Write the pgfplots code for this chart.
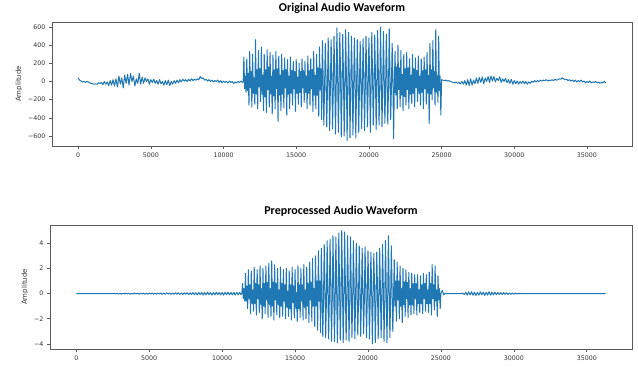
\documentclass[border=0pt]{standalone}
\usepackage{fontspec}
\setmainfont{DejaVu Sans}
\newfontfamily\titlefont{Carlito}
\usepackage{pgfplots}
\pgfplotsset{compat=1.18}
\definecolor{mplblue}{HTML}{1F77B4}
\definecolor{framegray}{HTML}{5A5A5A}
\definecolor{ticktext}{HTML}{333333}
\pgfplotsset{
  wave/.style={
    scale only axis, anchor=south west,
    xmin=-1800, xmax=38100,
    scaled x ticks=false, scaled y ticks=false,
    xtick={0,5000,10000,15000,20000,25000,30000,35000},
    xticklabels={0,5000,10000,15000,20000,25000,30000,35000},
    tick align=outside, tick pos=left, major tick length=3pt,
    axis line style={framegray, line width=0.9pt},
    tick style={framegray, line width=0.6pt},
    ticklabel style={font=\fontsize{6.3}{7}\selectfont, text=ticktext},
    ylabel=Amplitude,
    ylabel style={font=\fontsize{7}{8}\selectfont, text=ticktext, anchor=center, rotate=0},
    title style={font=\titlefont\bfseries\fontsize{12}{14}\selectfont, at={(axis description cs:0.5,1)}, anchor=base, yshift=5pt},
  },
  wline/.style={color=mplblue, line width=1pt, line join=round, mark=none},
}
\begin{document}
\begin{tikzpicture}
\path[use as bounding box] (0,0) rectangle (638pt,367pt);
\begin{axis}[wave, at={(52pt,221pt)}, width=580pt, height=124pt,
  ymin=-710, ymax=655,
  ytick={-600,-400,-200,0,200,400,600},
  yticklabels={−600,−400,−200,0,200,400,600},
  ylabel style={at={(axis description cs:-0.057,0.5)}},
  title={Original Audio Waveform}]
\addplot[wline] coordinates {
(0,40)(100,15)(200,5)(300,-5)(400,0)(500,-10)(600,0)(700,-5)(800,-15)(900,-20)(1000,-25)(1100,-30)(1200,-25)(1300,-30)(1400,-15)(1500,-20)(1600,-10)(1700,-35)(1800,0)(1900,-30)(2000,-5)(2100,-45)(2200,10)(2300,-40)(2400,20)(2500,-50)(2600,30)(2700,-60)(2800,60)(2900,-30)(3000,40)(3100,-70)(3200,70)(3300,-20)(3400,80)(3500,-40)(3600,90)(3700,0)(3800,60)(3900,-50)(4000,30)(4100,-20)(4200,90)(4300,-30)(4400,50)(4500,-20)(4600,40)(4700,0)(4800,30)(4900,-30)(5000,20)(5100,-10)(5200,25)(5300,-20)(5400,10)(5500,-30)(5600,20)(5700,-25)(5800,0)(5900,-40)(6000,10)(6100,-35)(6200,15)(6300,-45)(6400,0)(6500,-30)(6600,10)(6700,-20)(6800,15)(6900,-15)(7000,20)(7100,-5)(7200,25)(7300,5)(7400,20)(7500,0)(7600,25)(7700,5)(7800,30)(7900,10)(8000,25)(8100,15)(8200,30)(8300,20)(8400,55)(8500,30)(8600,40)(8700,15)(8800,25)(8900,5)(9000,20)(9100,0)(9200,15)(9300,-5)(9400,10)(9500,0)(9600,15)(9700,-10)(9800,10)(9900,-15)(10000,5)(10100,-10)(10200,0)(10300,-15)(10400,5)(10500,-10)(10600,0)(10700,-20)(10800,-5)(10900,-15)(11000,0)(11100,-10)(11200,5)(11300,-10)(11350,-5)
(11400,270)(11450,-80)(11500,60)(11550,-120)
(11600,250)(11650,-100)(11700,90)(11750,-260)
(11800,330)(11850,-70)(11900,110)(11950,-280)
(12000,300)(12050,-130)(12100,40)(12150,-250)
(12200,460)(12250,-140)(12300,130)(12350,-300)
(12400,340)(12450,-60)(12500,140)(12550,-220)
(12600,380)(12650,-140)(12700,70)(12750,-320)
(12800,300)(12850,-170)(12900,130)(12950,-340)
(13000,350)(13050,-90)(13100,160)(13150,-280)
(13200,320)(13250,-140)(13300,60)(13350,-360)
(13400,290)(13450,-160)(13500,130)(13550,-300)
(13600,330)(13650,-80)(13700,140)(13750,-440)
(13800,280)(13850,-150)(13900,70)(13950,-320)
(14000,300)(14050,-140)(14100,120)(14150,-290)
(14200,260)(14250,-70)(14300,130)(14350,-370)
(14400,240)(14450,-140)(14500,60)(14550,-300)
(14600,270)(14650,-130)(14700,120)(14750,-260)
(14800,220)(14850,-80)(14900,110)(14950,-330)
(15000,240)(15050,-130)(15100,50)(15150,-250)
(15200,200)(15250,-120)(15300,110)(15350,-280)
(15400,250)(15450,-70)(15500,120)(15550,-230)
(15600,220)(15650,-120)(15700,60)(15750,-300)
(15800,280)(15850,-130)(15900,120)(15950,-260)
(16000,250)(16050,-80)(16100,130)(16150,-330)
(16200,330)(16250,-150)(16300,70)(16350,-300)
(16400,300)(16450,-150)(16500,150)(16550,-380)
(16600,380)(16650,-90)(16700,140)(16750,-420)
(16800,450)(16850,70)(16900,-480)(16950,-70)
(17000,420)(17050,60)(17100,-500)(17150,-80)
(17200,480)(17250,70)(17300,-540)(17350,-80)
(17400,460)(17450,70)(17500,-520)(17550,-80)
(17600,500)(17650,80)(17700,-580)(17750,-90)
(17800,590)(17850,90)(17900,-560)(17950,-80)
(18000,540)(18050,80)(18100,-610)(18150,-90)
(18200,520)(18250,80)(18300,-600)(18350,-90)
(18400,570)(18450,90)(18500,-650)(18550,-100)
(18600,540)(18650,80)(18700,-620)(18750,-90)
(18800,500)(18850,80)(18900,-590)(18950,-90)
(19000,480)(19050,70)(19100,-620)(19150,-90)
(19200,460)(19250,70)(19300,-560)(19350,-80)
(19400,440)(19450,70)(19500,-520)(19550,-80)
(19600,470)(19650,70)(19700,-540)(19750,-80)
(19800,500)(19850,80)(19900,-500)(19950,-70)
(20000,480)(20050,70)(20100,-560)(20150,-80)
(20200,540)(20250,80)(20300,-480)(20350,-70)
(20400,510)(20450,80)(20500,-530)(20550,-80)
(20600,560)(20650,80)(20700,-480)(20750,-70)
(20800,600)(20850,90)(20900,-500)(20950,-80)
(21000,550)(21050,80)(21100,-460)(21150,-70)
(21200,520)(21250,80)(21300,-470)(21350,-70)
(21400,580)(21450,80)(21500,-420)(21550,-60)
(21600,420)(21650,60)(21700,-630)(21750,-60)
(21800,330)(21850,-150)(21900,160)(21950,-300)
(22000,400)(22050,-90)(22100,150)(22150,-280)
(22200,340)(22250,-150)(22300,80)(22350,-320)
(22400,300)(22450,-170)(22500,140)(22550,-260)
(22600,320)(22650,-90)(22700,150)(22750,-300)
(22800,250)(22850,-140)(22900,70)(22950,-240)
(23000,300)(23050,-130)(23100,140)(23150,-280)
(23200,260)(23250,-70)(23300,120)(23350,-220)
(23400,280)(23450,-130)(23500,60)(23550,-260)
(23600,250)(23650,-120)(23700,120)(23750,-300)
(23800,270)(23850,-80)(23900,130)(23950,-250)
(24000,320)(24050,-130)(24100,70)(24150,-460)
(24200,420)(24250,-140)(24300,130)(24350,-200)
(24400,450)(24450,-70)(24500,110)(24550,-260)
(24600,570)(24650,-120)(24700,60)(24750,-230)
(24800,500)(24850,-100)(24900,60)(24950,-370)
(25000,20)(25100,15)(25200,10)(25300,15)(25400,5)(25500,10)(25600,0)(25700,-5)(25800,-10)(25900,-15)(26000,-5)(26100,-20)(26200,-10)(26300,-25)(26400,0)(26500,-30)(26600,10)(26700,-40)(26800,20)(26900,-45)(27000,30)(27100,-40)(27200,15)(27300,-25)(27400,40)(27500,-20)(27600,45)(27700,-10)(27800,50)(27900,-25)(28000,40)(28100,0)(28200,55)(28300,-10)(28400,60)(28500,5)(28600,55)(28700,-5)(28800,35)(28900,10)(29000,50)(29100,-10)(29200,30)(29300,0)(29400,35)(29500,-15)(29600,20)(29700,-20)(29800,25)(29900,-30)(30000,10)(30100,-25)(30200,5)(30300,-30)(30400,0)(30500,-20)(30600,5)(30700,-25)(30800,0)(30900,-30)(31000,-5)(31100,-20)(31200,5)(31300,-10)(31400,10)(31500,-5)(31600,10)(31700,0)(31800,15)(31900,5)(32000,15)(32100,10)(32200,20)(32300,5)(32400,15)(32500,10)(32600,20)(32700,10)(32800,25)(32900,15)(33000,20)(33100,30)(33200,25)(33300,40)(33400,30)(33500,20)(33600,25)(33700,10)(33800,20)(33900,5)(34000,15)(34100,0)(34200,15)(34300,-5)(34400,10)(34500,0)(34600,15)(34700,-5)(34800,5)(34900,-15)(35000,0)(35100,-10)(35200,5)(35300,-15)(35400,-5)(35500,-10)(35600,0)(35700,-15)(35800,-5)(35900,-20)(36000,-10)(36100,-15)(36200,0)(36300,-15)
};
\end{axis}
\begin{axis}[wave, at={(50pt,18pt)}, width=582pt, height=124pt,
  ymin=-4.4, ymax=5.45,
  ytick={-4,-2,0,2,4},
  yticklabels={−4,−2,0,2,4},
  ylabel style={at={(axis description cs:-0.043,0.5)}},
  title={Preprocessed Audio Waveform}]
\addplot[wline] coordinates {
(0,0)(2500,0)(2600,0.02)(2700,-0.02)(2800,0.03)(2900,-0.03)(3000,0.02)(3100,-0.04)(3200,0.03)(3300,-0.02)(3400,0.04)(3500,-0.03)(3600,0.03)(3700,-0.04)(3800,0.02)(3900,-0.03)(4000,0.04)(4100,-0.02)(4200,0.03)(4300,-0.04)(4400,0.03)(4500,-0.03)(4600,0.04)(4700,-0.04)(4800,0.03)(4900,-0.05)(5000,0.04)(5100,-0.03)(5200,0.05)(5300,-0.04)(5400,0.03)(5500,-0.05)(5600,0.04)(5700,-0.03)(5800,0.05)(5900,-0.06)(6000,0.04)(6100,-0.05)(6200,0.06)(6300,-0.04)(6400,0.05)(6500,-0.06)(6600,0.04)(6700,-0.05)(6800,0.06)(6900,-0.05)(7000,0.07)(7100,-0.06)(7200,0.05)(7300,-0.07)(7400,0.06)(7500,-0.05)(7600,0.07)(7700,-0.08)(7800,0.06)(7900,-0.07)(8000,0.08)(8100,-0.09)(8200,0.07)(8300,-0.1)(8400,0.09)(8500,-0.08)(8600,0.1)(8700,-0.12)(8800,0.09)(8900,-0.1)(9000,0.11)(9100,-0.09)(9200,0.1)(9300,-0.12)(9400,0.08)(9500,-0.1)(9600,0.12)(9700,-0.09)(9800,0.1)(9900,-0.11)(10000,0.09)(10100,-0.12)(10200,0.1)(10300,-0.09)(10400,0.12)(10500,-0.1)(10600,0.09)(10700,-0.11)(10800,0.1)(10900,-0.12)(11000,0.11)(11100,-0.1)(11200,0.09)(11300,-0.08)(11350,0)
(11400,0.8)(11450,-0.4)(11500,0.4)(11550,-0.6)
(11600,1.6)(11650,-0.6)(11700,0.6)(11750,-1.2)
(11800,1.9)(11850,-0.4)(11900,0.7)(11950,-1.6)
(12000,1.8)(12050,-0.8)(12100,0.3)(12150,-1.4)
(12200,2.1)(12250,-0.8)(12300,0.8)(12350,-1.7)
(12400,1.9)(12450,-0.4)(12500,0.7)(12550,-1.5)
(12600,2.2)(12650,-0.9)(12700,0.4)(12750,-2.0)
(12800,2.0)(12850,-1.0)(12900,0.8)(12950,-1.6)
(13000,2.2)(13050,-0.5)(13100,0.9)(13150,-1.9)
(13200,2.4)(13250,-0.9)(13300,0.4)(13350,-1.8)
(13400,2.6)(13450,-1.0)(13500,0.9)(13550,-2.1)
(13600,2.3)(13650,-0.5)(13700,0.8)(13750,-1.7)
(13800,2.0)(13850,-0.9)(13900,0.3)(13950,-1.9)
(14000,2.1)(14050,-1.0)(14100,0.8)(14150,-1.8)
(14200,1.9)(14250,-0.6)(14300,0.7)(14350,-2.0)
(14400,2.0)(14450,-1.1)(14500,0.2)(14550,-1.8)
(14600,1.8)(14650,-1.2)(14700,0.7)(14750,-2.1)
(14800,2.1)(14850,-0.7)(14900,0.6)(14950,-1.9)
(15000,1.9)(15050,-1.2)(15100,0.1)(15150,-2.2)
(15200,2.2)(15250,-1.2)(15300,0.7)(15350,-1.9)
(15400,2.0)(15450,-0.6)(15500,0.7)(15550,-2.1)
(15600,2.3)(15650,-1.1)(15700,0.3)(15750,-2.0)
(15800,2.1)(15850,-1.0)(15900,0.8)(15950,-2.3)
(16000,2.5)(16050,-0.5)(16100,0.9)(16150,-2.2)
(16200,2.8)(16250,-1.0)(16300,0.4)(16350,-2.6)
(16400,3.0)(16450,-1.0)(16500,1.0)(16550,-2.9)
(16600,3.4)(16650,-0.6)(16700,1.0)(16750,-3.1)
(16800,3.6)(16850,0.5)(16900,-3.4)(16950,-0.5)
(17000,3.9)(17050,0.6)(17100,-3.5)(17150,-0.5)
(17200,4.2)(17250,0.6)(17300,-3.6)(17350,-0.5)
(17400,4.3)(17450,0.6)(17500,-3.8)(17550,-0.6)
(17600,4.6)(17650,0.7)(17700,-3.8)(17750,-0.6)
(17800,4.5)(17850,0.7)(17900,-3.9)(17950,-0.6)
(18000,4.8)(18050,0.7)(18100,-3.7)(18150,-0.6)
(18200,5.0)(18250,0.8)(18300,-3.9)(18350,-0.6)
(18400,4.9)(18450,0.7)(18500,-3.7)(18550,-0.6)
(18600,4.6)(18650,0.7)(18700,-3.8)(18750,-0.6)
(18800,4.5)(18850,0.7)(18900,-3.5)(18950,-0.5)
(19000,4.2)(19050,0.6)(19100,-3.6)(19150,-0.5)
(19200,4.0)(19250,0.6)(19300,-3.3)(19350,-0.5)
(19400,3.8)(19450,0.6)(19500,-3.4)(19550,-0.5)
(19600,3.6)(19650,0.5)(19700,-3.2)(19750,-0.5)
(19800,3.7)(19850,0.6)(19900,-3.5)(19950,-0.5)
(20000,3.4)(20050,0.5)(20100,-3.6)(20150,-0.5)
(20200,3.3)(20250,0.5)(20300,-4.0)(20350,-0.6)
(20400,3.2)(20450,0.5)(20500,-3.9)(20550,-0.6)
(20600,3.3)(20650,0.5)(20700,-3.6)(20750,-0.5)
(20800,3.6)(20850,0.5)(20900,-3.5)(20950,-0.5)
(21000,3.9)(21050,0.6)(21100,-3.8)(21150,-0.6)
(21200,4.2)(21250,0.6)(21300,-3.9)(21350,-0.6)
(21400,4.6)(21450,0.7)(21500,-3.5)(21550,-0.5)
(21600,3.8)(21650,0.6)(21700,-3.0)(21750,-0.5)
(21800,2.7)(21850,-1.0)(21900,1.0)(21950,-2.2)
(22000,2.5)(22050,-0.5)(22100,1.0)(22150,-2.0)
(22200,2.2)(22250,-1.0)(22300,0.4)(22350,-2.3)
(22400,2.0)(22450,-0.9)(22500,0.9)(22550,-1.8)
(22600,1.9)(22650,-0.4)(22700,0.9)(22750,-1.9)
(22800,1.7)(22850,-0.9)(22900,0.4)(22950,-1.7)
(23000,1.6)(23050,-0.9)(23100,0.8)(23150,-1.6)
(23200,1.5)(23250,-0.4)(23300,0.8)(23350,-1.7)
(23400,1.5)(23450,-0.8)(23500,0.3)(23550,-1.5)
(23600,1.4)(23650,-0.8)(23700,0.7)(23750,-1.6)
(23800,1.6)(23850,-0.4)(23900,0.8)(23950,-1.4)
(24000,1.5)(24050,-0.8)(24100,0.3)(24150,-1.5)
(24200,1.7)(24250,-0.8)(24300,0.8)(24350,-1.7)
(24400,2.3)(24450,-0.4)(24500,0.7)(24550,-1.3)
(24600,2.2)(24650,-0.6)(24700,0.3)(24750,-1.8)
(24800,1.4)(24850,-0.5)(24900,0.4)(24950,-1.2)
(25000,0)(25100,0.25)(25200,-0.1)(25300,0.03)(25400,0)
(26400,0)(26500,0.05)(26600,-0.08)(26700,0.1)(26800,-0.12)(26900,0.14)(27000,-0.1)(27100,0.15)(27200,-0.13)(27300,0.12)(27400,-0.15)(27500,0.1)(27600,-0.12)(27700,0.14)(27800,-0.1)(27900,0.12)(28000,-0.14)(28100,0.1)(28200,-0.12)(28300,0.15)(28400,-0.13)(28500,0.12)(28600,-0.1)(28700,0.11)(28800,-0.09)(28900,0.1)(29000,-0.08)(29100,0.09)(29200,-0.07)(29300,0.08)(29400,-0.06)(29500,0.07)(29600,-0.06)(29700,0.05)(29800,-0.06)(29900,0.05)(30000,-0.05)(30100,0.04)(30200,-0.03)(30300,0.03)(30400,-0.02)(30500,0.02)(30600,0)(36300,0)
};
\end{axis}
\end{tikzpicture}
\end{document}
